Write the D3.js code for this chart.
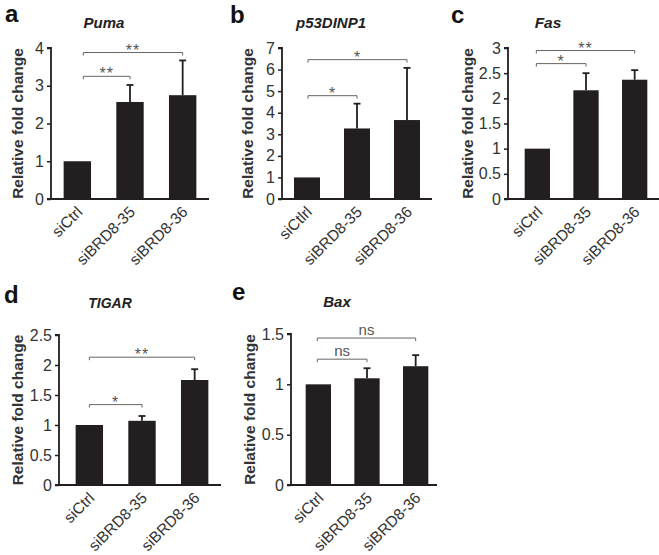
<!DOCTYPE html>
<html><head><meta charset="utf-8">
<script src="https://cdn.jsdelivr.net/npm/d3@7"></script>
<style>
html,body{margin:0;padding:0;background:#fff;}
svg{display:block;font-family:"Liberation Sans",Arial,sans-serif;}
</style></head>
<body>
<svg id="chart" width="659" height="555"></svg>
<script>
// ---- data ----
const categories = ["siCtrl", "siBRD8-35", "siBRD8-36"];
const categoriesB = ["siCtlrl", "siBRD8-35", "siBRD8-36"];
const genes = ["Puma", "p53DINP1", "Fas", "TIGAR", "Bax"];
const panelLetters = ["a", "b", "c", "d", "e"];

const pumaMean = [1, 2.57, 2.75];
const pumaSD   = [0, 0.45, 0.92];
const p53Mean  = [1, 3.27, 3.66];
const p53SD    = [0, 1.15, 2.42];
const fasMean  = [1, 2.16, 2.37];
const fasSD    = [0, 0.34, 0.19];
const tigarMean = [1, 1.07, 1.75];
const tigarSD   = [0, 0.08, 0.18];
const baxMean  = [1, 1.06, 1.18];
const baxSD    = [0, 0.10, 0.11];

const pumaTicks  = [0, 1, 2, 3, 4];
const p53Ticks   = [0, 1, 2, 3, 4, 5, 6, 7];
const fasTicks   = [0, 0.5, 1, 1.5, 2, 2.5, 3];
const tigarTicks = [0, 0.5, 1, 1.5, 2, 2.5];
const baxTicks   = [0, 0.5, 1, 1.5];

// significance brackets: [target category index, bracket height value, label]
const pumaSig  = [[1, 3.25, "**"], [2, 3.88, "**"]];
const p53Sig   = [[1, 4.79, "*"], [2, 6.46, "*"]];
const fasSig   = [[1, 2.69, "*"], [2, 2.95, "**"]];
const tigarSig = [[1, 1.34, "*"], [2, 2.13, "**"]];
const baxSig   = [[1, 1.25, "ns"], [2, 1.46, "ns"]];

const yLabel = "Relative fold change";

// ---- layout ----
const panels = [
  {cats: categories,  mean: pumaMean,  sd: pumaSD,  ticks: pumaTicks,  sig: pumaSig,
   ax: 51, axEnd: 209, band: [51, 209], top: 48, bottom: 199, ylx: 18,
   title: [104, 28, 15], letter: [5, 22], brL: 6},
  {cats: categoriesB, mean: p53Mean,   sd: p53SD,   ticks: p53Ticks,   sig: p53Sig,
   ax: 282, axEnd: 432, band: [282, 432], top: 48, bottom: 199, ylx: 248,
   title: [331, 28, 15], letter: [230, 23], brL: 1},
  {cats: categories,  mean: fasMean,   sd: fasSD,   ticks: fasTicks,   sig: fasSig,
   ax: 508, axEnd: 659, band: [513, 659], top: 48, bottom: 199, ylx: 468,
   title: [548, 28, 15.5], letter: [451, 23], brL: -1},
  {cats: categories,  mean: tigarMean, sd: tigarSD, ticks: tigarTicks, sig: tigarSig,
   ax: 59, axEnd: 221, band: [63, 221], top: 335, bottom: 485, ylx: 18,
   title: [110, 308, 14], letter: [4, 303], brL: 0},
  {cats: categories,  mean: baxMean,   sd: baxSD,   ticks: baxTicks,   sig: baxSig,
   ax: 291, axEnd: 437, band: [294, 440], top: 334, bottom: 485, ylx: 250,
   title: [337, 307, 15], letter: [232, 300], brL: -1}
];

const ink = "#231f20";
const svg = d3.select("#chart");

panels.forEach((p, i) => {
  const g = svg.append("g");
  const maxT = p.ticks[p.ticks.length - 1];
  const y = d3.scaleLinear().domain([0, maxT]).range([p.bottom, p.top]);
  const x = d3.scaleBand().domain(p.cats).range(p.band).paddingInner(0.48).paddingOuter(0.24);

  // bars
  g.selectAll("rect.bar").data(p.cats).enter().append("rect")
    .attr("x", d => x(d)).attr("width", x.bandwidth())
    .attr("y", (d, k) => y(p.mean[k]))
    .attr("height", (d, k) => y(0) - y(p.mean[k]))
    .attr("fill", ink);

  // error bars (upper)
  p.cats.forEach((c, k) => {
    if (p.sd[k] <= 0) return;
    const cx = x(c) + x.bandwidth() / 2;
    g.append("line").attr("x1", cx).attr("x2", cx)
      .attr("y1", y(p.mean[k])).attr("y2", y(p.mean[k] + p.sd[k]))
      .attr("stroke", ink).attr("stroke-width", 1.8);
    g.append("line").attr("x1", cx - 3.5).attr("x2", cx + 3.5)
      .attr("y1", y(p.mean[k] + p.sd[k])).attr("y2", y(p.mean[k] + p.sd[k]))
      .attr("stroke", ink).attr("stroke-width", 1.8);
  });

  // y axis
  const yAxis = d3.axisLeft(y).tickValues(p.ticks).tickSize(4).tickPadding(3)
    .tickFormat(d3.format("~g"));
  const ga = g.append("g").attr("transform", `translate(${p.ax},0)`).call(yAxis);
  ga.select(".domain").attr("stroke", ink).attr("stroke-width", 1.8)
    .attr("d", `M-4,${p.top}H0V${p.bottom}`);
  ga.selectAll(".tick line").attr("stroke", ink).attr("stroke-width", 1.5);
  ga.selectAll(".tick text").attr("font-size", 16).attr("fill", "#333")
    .attr("font-family", "'Liberation Sans',Arial,sans-serif");

  // x axis baseline
  g.append("line").attr("x1", p.ax - 4).attr("x2", p.axEnd)
    .attr("y1", p.bottom).attr("y2", p.bottom)
    .attr("stroke", ink).attr("stroke-width", 2);

  // x labels
  p.cats.forEach(c => {
    const cx = x(c) + x.bandwidth() / 2 + 6;
    const cy = p.bottom + 14;
    g.append("text").attr("transform", `translate(${cx},${cy}) rotate(-45)`)
      .attr("text-anchor", "end").attr("font-size", 15.5).attr("fill", "#333")
      .text(c);
  });

  // y label
  g.append("text").attr("transform", `translate(${p.ylx},${(p.top + p.bottom) / 2}) rotate(-90)`)
    .attr("text-anchor", "middle").attr("dy", "0.35em")
    .attr("font-size", 15.5).attr("font-weight", "bold").attr("fill", "#333")
    .text(yLabel);

  // title
  g.append("text").attr("x", p.title[0]).attr("y", p.title[1])
    .attr("text-anchor", "middle").attr("font-size", p.title[2])
    .attr("font-weight", "bold").attr("font-style", "italic").attr("fill", "#222")
    .text(genes[i]);

  // panel letter
  g.append("text").attr("x", p.letter[0]).attr("y", p.letter[1])
    .attr("font-size", 24).attr("font-weight", "bold").attr("fill", "#111")
    .text(panelLetters[i]);

  // significance brackets
  p.sig.forEach(s => {
    const x1 = x(p.cats[0]) + x.bandwidth() / 2 + p.brL;
    const x2 = x(p.cats[s[0]]) + x.bandwidth() / 2;
    const yy = y(s[1]);
    g.append("path").attr("d", `M${x1},${yy + 3}V${yy}H${x2}V${yy + 3}`)
      .attr("fill", "none").attr("stroke", "#666").attr("stroke-width", 1);
    const isNs = s[2] === "ns";
    g.append("text").attr("x", (x1 + x2) / 2).attr("y", isNs ? yy - 3 : yy + 3)
      .attr("text-anchor", "middle").attr("font-size", isNs ? 15 : 16)
      .attr("letter-spacing", isNs ? 0 : 1).attr("fill", "#555")
      .text(s[2]);
  });
});
</script>
</body></html>
